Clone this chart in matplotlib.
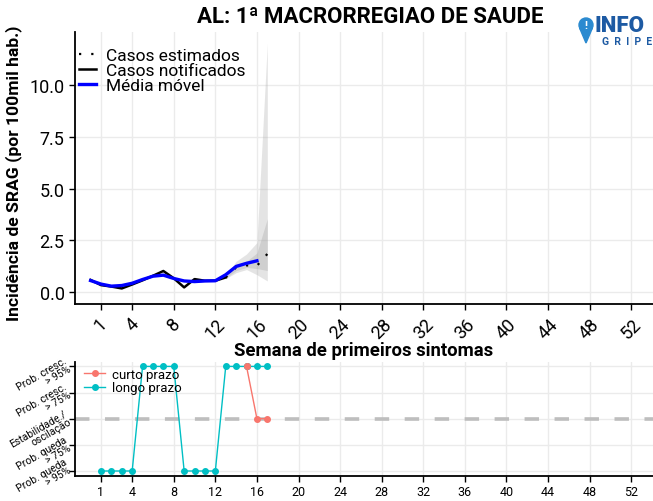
import matplotlib
matplotlib.use("Agg")
import matplotlib.pyplot as plt
from matplotlib.patches import Circle, Polygon

plt.rcParams["font.family"] = ["Roboto", "DejaVu Sans"]

# --- data ---
title = "AL: 1ª MACRORREGIAO DE SAUDE"

notif_weeks = [0, 1, 2, 3, 4, 5, 6, 7, 8, 9, 10, 11, 12, 13]
notif_vals = [0.6, 0.35, 0.28, 0.19, 0.38, 0.58, 0.8, 1.03, 0.68, 0.24, 0.64, 0.56, 0.56, 0.72]

mm_weeks = [0, 1, 2, 3, 4, 5, 6, 7, 8, 9, 10, 11, 12, 13, 14, 15, 16]
mm_vals = [0.57, 0.4, 0.3, 0.33, 0.44, 0.62, 0.78, 0.83, 0.67, 0.55, 0.52, 0.55, 0.56, 0.85, 1.25, 1.4, 1.52]

est_weeks = [13, 14, 15, 16, 17]
est_vals = [0.72, 1.2, 1.3, 1.28, 1.85]
ic95_low = [0.66, 0.95, 1.1, 0.85, 0.55]
ic95_high = [0.78, 1.5, 1.85, 2.4, 12.0]
ic50_low = [0.69, 1.05, 1.2, 1.15, 1.05]
ic50_high = [0.75, 1.35, 1.5, 1.9, 3.55]

xticks = [1, 4, 8, 12, 16, 20, 24, 28, 32, 36, 40, 44, 48, 52]
yticks = [0.0, 2.5, 5.0, 7.5, 10.0]

tend_labels = ["Prob. queda\n> 95%", "Prob. queda\n> 75%", "Estabilidade./\noscilação",
               "Prob. cresc.\n> 75%", "Prob. cresc.\n> 95%"]
tend_levels = [-2, -1, 0, 1, 2]
longo_weeks = list(range(1, 18))
longo_vals = [-2, -2, -2, -2, 2, 2, 2, 2, -2, -2, -2, -2, 2, 2, 2, 2, 2]
curto_weeks = [15, 16, 17]
curto_vals = [2, 0, 0]

W, H = 653, 502
fig = plt.figure(figsize=(W / 100, H / 100), dpi=100)

grid_c = "#ebebeb"

# --- top panel ---
ax = fig.add_axes([75 / W, (H - 305) / H, 578 / W, 272.3 / H])
ax.fill_between(est_weeks, ic95_low, ic95_high, color="#a8a8a8", alpha=0.3, lw=0)
ax.fill_between(est_weeks, ic50_low, ic50_high, color="#a8a8a8", alpha=0.35, lw=0)
ax.plot(est_weeks, est_vals, color="black", lw=1.6, linestyle=(0, (1, 4.5)),
        label="Casos estimados")
ax.plot(notif_weeks, notif_vals, color="black", lw=1.8, label="Casos notificados")
ax.plot(mm_weeks, mm_vals, color="#0000ff", lw=2.4, label="Média móvel")

ax.set_xlim(-1.5, 54.1)
ax.set_ylim(-0.56, 12.56)
ax.set_xticks(xticks)
ax.set_xticklabels([str(t) for t in xticks], rotation=45, fontsize=13)
ax.set_yticks(yticks)
ax.set_yticklabels(["%.1f" % v for v in yticks], fontsize=13)
ax.grid(True, color=grid_c, lw=1)
ax.set_axisbelow(True)
for s in ["top", "right"]:
    ax.spines[s].set_visible(False)
for s in ["left", "bottom"]:
    ax.spines[s].set_linewidth(1.3)
ax.tick_params(length=4, width=1, colors="black")
ax.set_ylabel("Incidência de SRAG (por 100mil hab.)", fontsize=12.6, fontweight="bold")
ax.yaxis.set_label_coords(-0.0917, 0.485)
ax.set_xlabel("Semana de primeiros sintomas", fontsize=13.3, fontweight="bold", labelpad=0)
ax.legend(loc="upper left", bbox_to_anchor=(-0.014, 0.985), frameon=False, fontsize=12.5,
          handlelength=1.0, handletextpad=0.55, labelspacing=0.0, borderaxespad=0.3)

fig.text(370 / W, 1 - 17 / H, title, fontsize=16, fontweight="bold",
         ha="center", va="center")

# --- bottom panel ---
ax2 = fig.add_axes([75 / W, (H - 476.7) / H, 578 / W, 114 / H])
ax2.axhline(0, color="#bebebe", lw=2.6, dashes=(4, 4.3), zorder=1)
ax2.plot(curto_weeks, curto_vals, color="#F8766D", lw=1, marker="o", ms=4,
         label="curto prazo", zorder=2)
ax2.plot(longo_weeks, longo_vals, color="#00BFC4", lw=1, marker="o", ms=4,
         label="longo prazo", zorder=3)
ax2.plot(curto_weeks[:1], curto_vals[:1], color="#F8766D", marker="o", ms=4, lw=0,
         zorder=4)
ax2.set_xlim(-1.5, 54.1)
ax2.set_ylim(-2.18, 2.18)
ax2.set_xticks(xticks)
ax2.set_xticklabels([str(t) for t in xticks], fontsize=9)
ax2.set_yticks(tend_levels)
ax2.set_yticklabels([])
# rotated two-line labels drawn by hand; the lowest one lifted a bit to stay inside
for lvl, lab in zip(tend_levels, tend_labels):
    dy = 0.25 if lvl == -2 else 0.1
    ax2.text(-0.0121, lvl + dy, lab, transform=ax2.get_yaxis_transform(), fontsize=7.5,
             rotation=30, ha="right", va="center", rotation_mode="anchor",
             linespacing=0.9, clip_on=False)
ax2.grid(True, color=grid_c, lw=1)
ax2.set_axisbelow(True)
for s in ["top", "right"]:
    ax2.spines[s].set_visible(False)
for s in ["left", "bottom"]:
    ax2.spines[s].set_linewidth(1.3)
ax2.tick_params(length=4, width=1, colors="black", pad=3)
ax2.legend(loc="upper left", bbox_to_anchor=(0.0, 1.03), frameon=False, fontsize=9.5,
           handlelength=1.6, handletextpad=0.5, labelspacing=0.05, borderaxespad=0.3)

# --- logo ---
lg = fig.add_axes([578 / W, (H - 47) / H, 75 / W, 32 / H])
lg.set_xlim(0, 75)
lg.set_ylim(0, 32)
lg.axis("off")
pin_c = "#2b8ad0"
lg.add_patch(Circle((8, 21), 7, color=pin_c))
lg.add_patch(Polygon([(1.6, 18), (14.4, 18), (8, 3)], closed=True, color=pin_c))
lg.text(8, 21, "!", color="white", fontsize=8, fontweight="bold", ha="center", va="center")
lg.text(16, 15, "INFO", color="#1d5aa3", fontsize=16, fontweight="black", ha="left",
        va="baseline")
lg.text(74.5, 2, "G  R  I  P  E", color="#1d5aa3", fontsize=7.5, fontweight="bold",
        ha="right", va="baseline")

fig.savefig("out.png", dpi=100)
